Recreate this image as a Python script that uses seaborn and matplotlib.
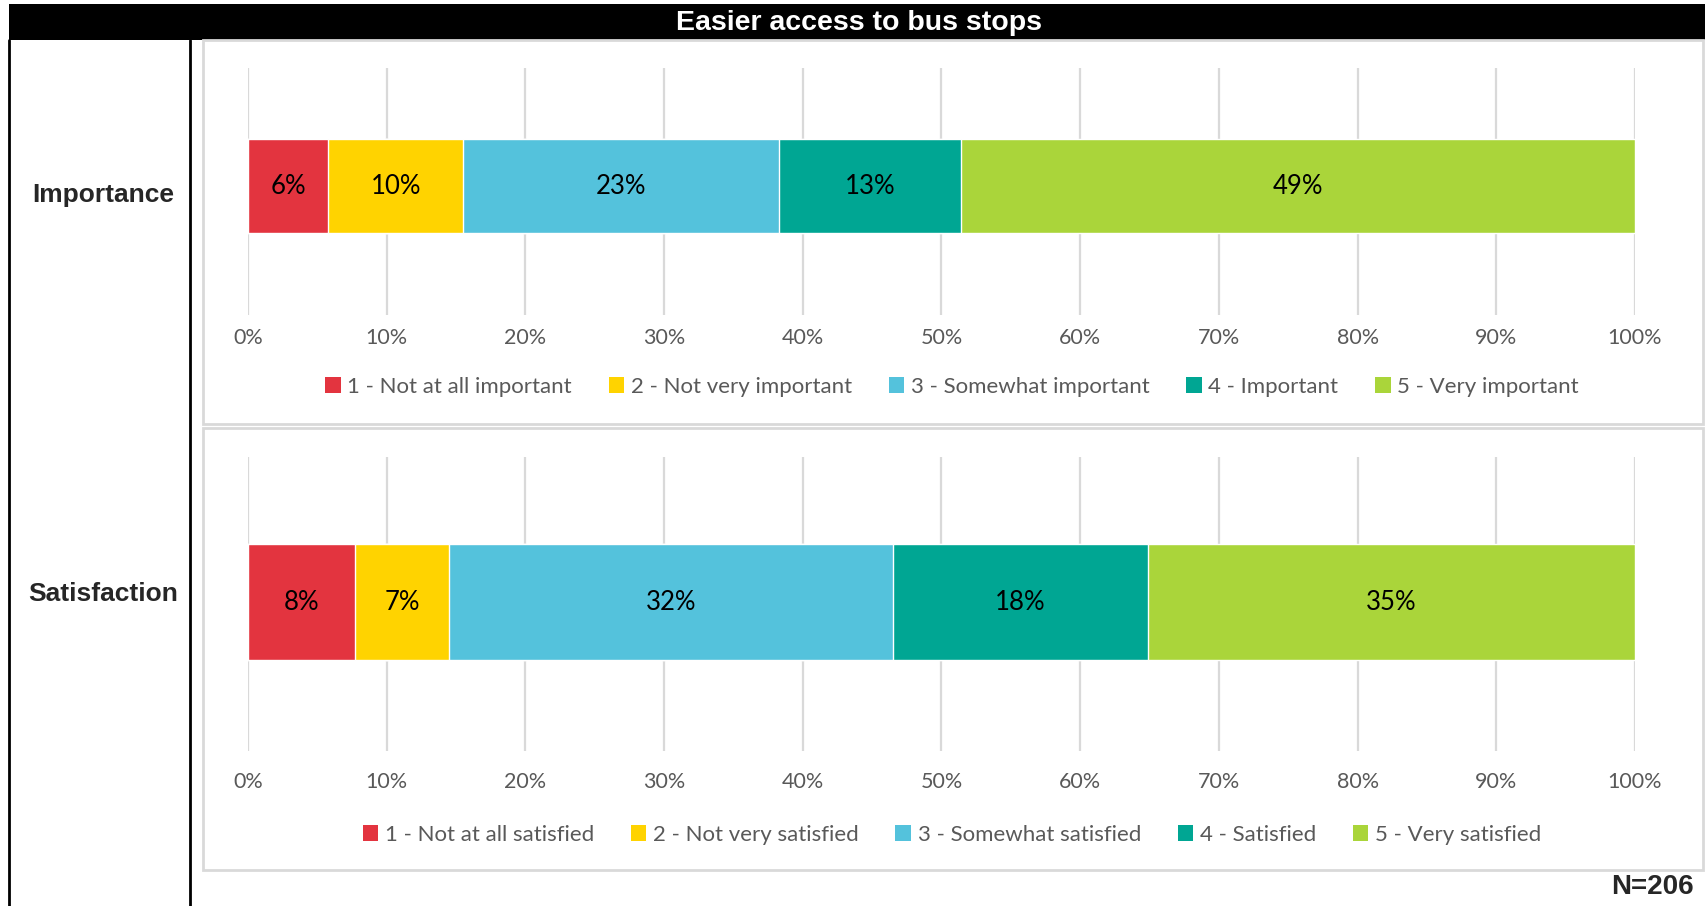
import matplotlib
matplotlib.use("Agg")
import matplotlib.pyplot as plt
from matplotlib.patches import Rectangle, Patch
from matplotlib.lines import Line2D
import seaborn as sns
import pandas as pd
import numpy as np

# dados
titulo = "Easier access to bus stops"
linhas = ["Importance", "Satisfaction"]
cores = ["#E3343F", "#FFD300", "#54C2DC", "#00A693", "#AAD53A"]
rotulos_importancia = ["1 - Not at all important", "2 - Not very important",
                       "3 - Somewhat important", "4 - Important", "5 - Very important"]
rotulos_satisfacao = ["1 - Not at all satisfied", "2 - Not very satisfied",
                      "3 - Somewhat satisfied", "4 - Satisfied", "5 - Very satisfied"]
valores_importancia = [5.8, 9.7, 22.8, 13.1, 48.6]
valores_satisfacao = [7.7, 6.8, 32.0, 18.4, 35.1]
amostra = "N=206"

sns.set_style("white")
plt.rcParams["font.family"] = ["Lato", "DejaVu Sans"]

W, H = 1706, 906
fig = plt.figure(figsize=(W / 100, H / 100), dpi=100)


def fx(px):
    return px / W


def fy(py):
    return 1 - py / H


# moldura: faixa do titulo e linhas verticais
fig.patches.append(Rectangle((fx(9), fy(40)), 1 - fx(9), fy(4) - fy(40),
                             transform=fig.transFigure, facecolor="black", edgecolor="none"))
fig.text(fx(859), fy(23), titulo, color="white", fontsize=20.5, fontweight="bold",
         ha="center", va="center", family="Liberation Sans")
for xl in [9, 190]:
    fig.add_artist(Line2D([fx(xl), fx(xl)], [0, fy(40)], color="black", lw=2,
                          transform=fig.transFigure))

# caixas cinzas dos dois paineis
for top, bot in [(40, 424), (428, 870)]:
    fig.patches.append(Rectangle((fx(203), fy(bot)), fx(1703) - fx(203), fy(top) - fy(bot),
                                 transform=fig.transFigure, facecolor="none",
                                 edgecolor="#D9D9D9", lw=2))

paineis = [
    # (linha, valores, rotulos, topo, base, centro barra, altura barra, pad, y legenda, y rotulo)
    ("Importance", valores_importancia, rotulos_importancia, 68, 315, 186, 94, 9, 387, 195),
    ("Satisfaction", valores_satisfacao, rotulos_satisfacao, 457, 751, 602, 116, 15, 835, 594),
]

for nome, valores, rotulos, top, bot, centro, alt, pad, yleg, yrot in paineis:
    ax = fig.add_axes([fx(248), fy(bot), fx(1635) - fx(248), fy(top) - fy(bot)])
    altura_px = bot - top
    largura = alt / altura_px
    acumulado = np.cumsum(valores)
    df = pd.DataFrame({"linha": [nome] * 5, "acum": acumulado, "cor": cores})
    # desenha do maior acumulado para o menor, assim as barras ficam empilhadas
    for i in range(4, -1, -1):
        sns.barplot(data=df.iloc[[i]], x="acum", y="linha", color=cores[i],
                    saturation=1, width=largura, orient="h", ax=ax, zorder=3)
    inicio = np.concatenate([[0], acumulado[:-1]])
    for ini, v in zip(inicio, valores):
        ax.text(ini + v / 2, 0, f"{round(v)}%", ha="center", va="center",
                fontsize=18.5, color="black", zorder=5)
    frac = (centro - top) / altura_px
    ax.set_ylim(-(1 - frac), frac)
    ax.set_xlim(0, 100)
    ax.set_xticks(range(0, 101, 10))
    ax.set_xticklabels([f"{t}%" for t in range(0, 101, 10)])
    ax.tick_params(axis="x", length=0, pad=pad, labelsize=15.5, labelcolor="#595959")
    ax.set_yticks([])
    ax.set_xlabel("")
    ax.set_ylabel("")
    ax.grid(axis="x", color="#D9D9D9", lw=1.6)
    ax.grid(axis="y", visible=False)
    ax.set_axisbelow(True)
    for s in ax.spines.values():
        s.set_visible(False)
    ax.patch.set_alpha(0)

    handles = [Patch(facecolor=c, edgecolor="none") for c in cores]
    fig.legend(handles, rotulos, loc="center", bbox_to_anchor=(fx(952), fy(yleg)),
               ncol=5, frameon=False, fontsize=16, labelcolor="#595959",
               handlelength=0.7, handleheight=0.7, handletextpad=0.3,
               columnspacing=1.65)

    fig.text(fx(103), fy(yrot), nome, fontsize=19, fontweight="bold", ha="center",
             va="center", family="Liberation Sans")

fig.text(fx(1694), fy(887), amostra, fontsize=20, fontweight="bold", ha="right",
         va="center", family="Liberation Sans")

fig.savefig("out.png", dpi=100)
